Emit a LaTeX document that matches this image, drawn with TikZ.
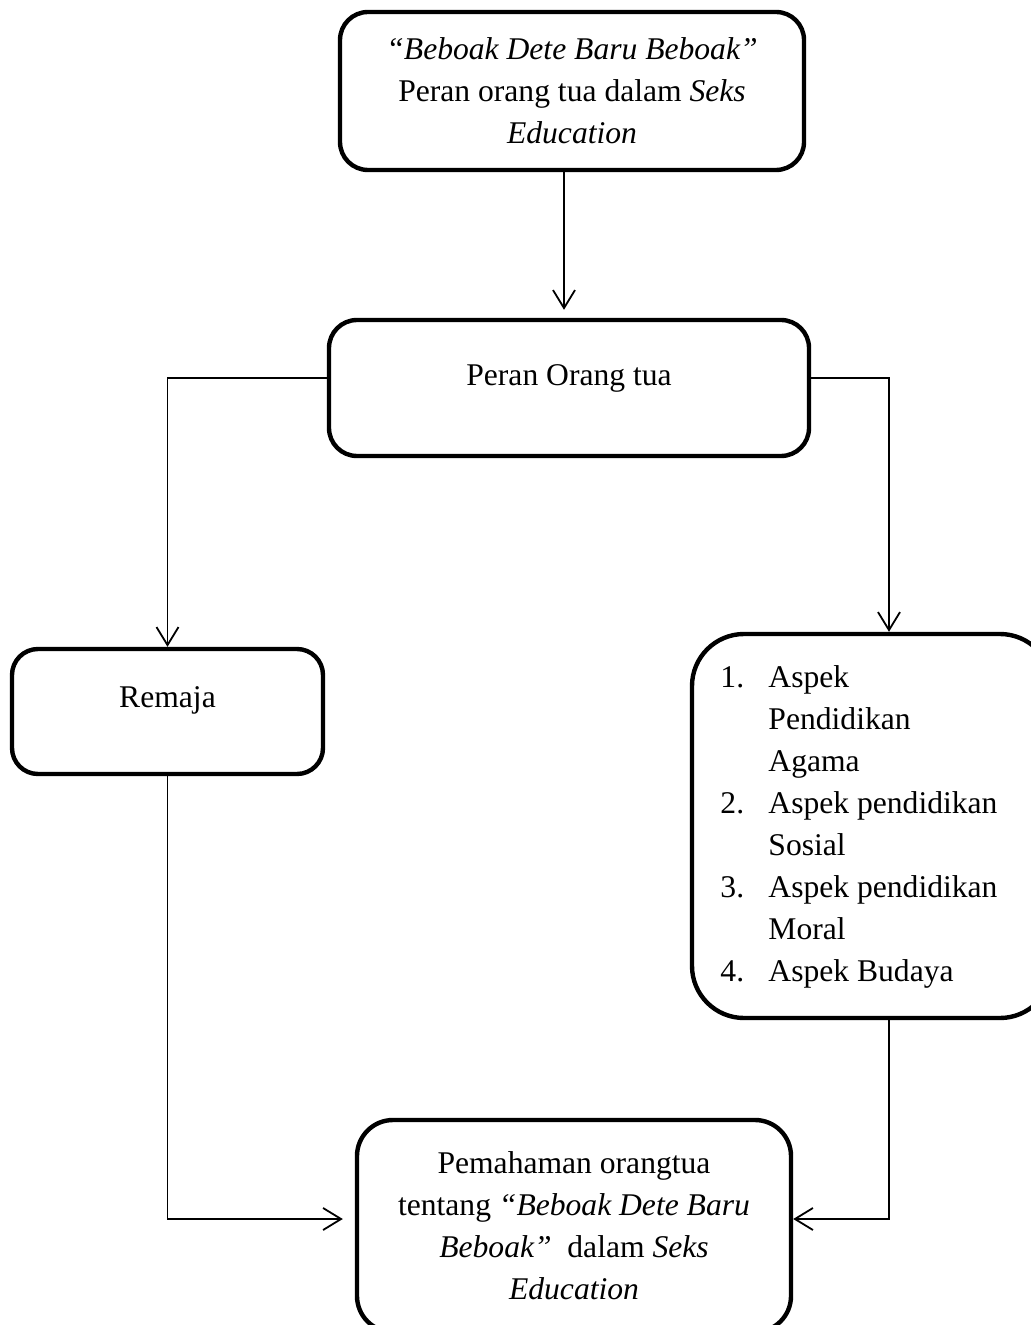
\documentclass[tikz,border=0pt]{standalone}
\usepackage{fontspec}
\setmainfont{Liberation Serif}
\usetikzlibrary{arrows.meta,positioning}

\begin{document}
\begin{tikzpicture}[
        x=0.5pt, y=-0.5pt,
        font=\fontsize{15.8}{21}\selectfont,
        box/.style={rectangle, rounded corners=#1, draw, line width=2.2pt, align=center, inner sep=0pt},
        box/.default=14pt,
        arrow/.style={-{Straight Barb[length=9pt,width=11pt]}, line width=0.9pt}
    ]
        \useasboundingbox (0,0) rectangle (1031,1325);

        \node[box, minimum width=232pt, minimum height=79pt] (top) at (572,91)
            {\textit{“Beboak Dete Baru Beboak”}\\Peran orang tua dalam \textit{Seks}\\\textit{Education}};
        \node[box, minimum width=240pt, minimum height=68pt, text height=11pt, text depth=13.6pt] (peran) at (569,388) {Peran Orang tua};
        \draw[arrow, shorten >=4pt] ([xshift=-4pt]top.south) -- ([xshift=-4pt]top.south |- peran.north);

        \node[box=13pt, minimum width=155.5pt, minimum height=62.5pt, text height=11pt, text depth=15pt] (remaja) at (167.5,711.5) {Remaja};
        \node[box=26pt, minimum width=180pt, minimum height=192pt] (aspek) at (872,826)
            {\begin{tabular}{@{}p{24pt}@{}l@{\hspace{13pt}}}
                1. & Aspek\\
                   & Pendidikan\\
                   & Agama\\
                2. & Aspek pendidikan\\
                   & Sosial\\
                3. & Aspek pendidikan\\
                   & Moral\\
                4. & Aspek Budaya
             \end{tabular}};
        \draw[arrow] ([yshift=5pt]peran.west) -| (remaja.north);
        \draw[arrow] ([yshift=5pt]peran.east) -| ([xshift=8.5pt]aspek.north);

        \node[box=18pt, minimum width=217pt, minimum height=106pt] (paham) at (574,1226)
            {Pemahaman orangtua\\tentang \textit{“Beboak Dete Baru}\\\textit{Beboak”}\ \ dalam \textit{Seks}\\\textit{Education}};
        \draw[arrow, shorten >=6pt] (remaja.south) |- ([yshift=3.5pt]paham.west);
        \draw[arrow] ([xshift=8.5pt]aspek.south) |- ([yshift=3.5pt]paham.east);
    \end{tikzpicture}
\end{document}
